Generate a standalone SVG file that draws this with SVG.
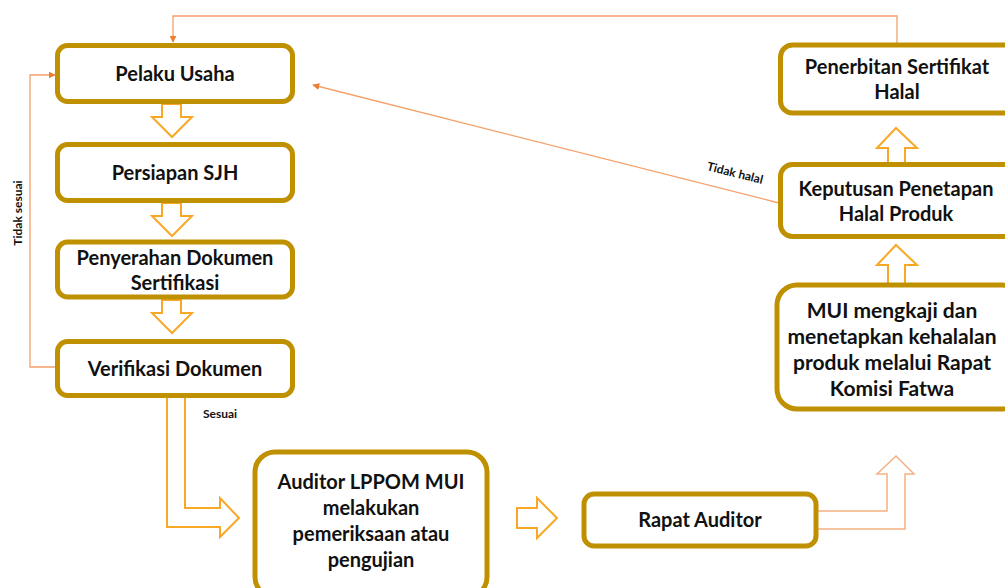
<svg xmlns="http://www.w3.org/2000/svg" width="1005" height="588" viewBox="0 0 1005 588">
<style>
.box{fill:#fff;stroke:#BF9000;stroke-width:5}
.t{font-family:Lato,"Open Sans",sans-serif;font-weight:bold;font-size:20px;fill:#111;text-anchor:middle}
.m{font-size:21px}
.s{font-family:Lato,"Open Sans",sans-serif;font-weight:bold;font-size:12px;fill:#111}
.ha{fill:#fff;stroke:#F9A825;stroke-width:2;stroke-linejoin:miter}
.hb{fill:#fff;stroke:#F4B183;stroke-width:1.5}
.c{fill:none;stroke:#F4A06A;stroke-width:1.3}
</style>
<defs>
<marker id="ah" viewBox="0 0 10 10" refX="9" refY="5" markerWidth="7" markerHeight="7" orient="auto" markerUnits="userSpaceOnUse">
<path d="M0,0 L10,5 L0,10 z" fill="#ED7D31"/>
</marker>
</defs>
<rect width="1005" height="588" fill="#fff"/>
<g id="connectors">
<polyline class="c" points="897,45 897,16 173,16 173,42" marker-end="url(#ah)"/>
<polyline class="c" points="57,367 30,367 30,75 55,75" marker-end="url(#ah)"/>
<line class="c" x1="779" y1="203" x2="313" y2="85" marker-end="url(#ah)"/>
<path class="ha" d="M162,104 L181,104 L181,117 L192,117 L172,137 L152,117 L162,117 Z"/>
<path class="ha" d="M162,203 L181,203 L181,216 L192,216 L172,236 L152,216 L162,216 Z"/>
<path class="ha" d="M162,300 L181,300 L181,313 L192,313 L172,333 L152,313 L162,313 Z"/>
<path class="ha" d="M167,397 L185,397 L185,508 L220,508 L220,498 L239,518 L220,537 L220,527 L167,527 Z"/>
<path class="ha" d="M517,508 L537,508 L537,498 L557,518 L537,538 L537,528 L517,528 Z"/>
<path class="hb" d="M818,511 L887,511 L887,474 L877,474 L896,456 L914,474 L905,474 L905,529 L818,529"/>
<path class="ha" d="M888,162 L888,148 L877,148 L896,128 L917,148 L905,148 L905,162"/>
<path class="ha" d="M888,283 L888,265 L877,265 L896,245 L917,265 L905,265 L905,283"/>
<text class="s" x="203" y="418">Sesuai</text>
<text class="s" transform="translate(22,213) rotate(-90)" text-anchor="middle">Tidak sesuai</text>
<text class="s" transform="translate(734,177) rotate(14)" text-anchor="middle">Tidak halal</text>
</g>
<g id="pelaku"><rect class="box" x="57.5" y="45.5" width="235" height="56" rx="10"/><text class="t" x="175" y="81">Pelaku Usaha</text></g>
<g id="persiapan"><rect class="box" x="57.5" y="144.5" width="235" height="56" rx="10"/><text class="t" x="175" y="180">Persiapan SJH</text></g>
<g id="penyerahan"><rect class="box" x="57.5" y="242" width="235" height="55" rx="10"/><text class="t" x="175" y="265">Penyerahan Dokumen</text><text class="t" x="175" y="290">Sertifikasi</text></g>
<g id="verifikasi"><rect class="box" x="57.5" y="341.5" width="235" height="54" rx="10"/><text class="t" x="175" y="376">Verifikasi Dokumen</text></g>
<g id="auditor"><rect class="box" x="255" y="452" width="232" height="145" rx="20"/><text class="t" x="371" y="489">Auditor LPPOM MUI</text><text class="t" x="371" y="515">melakukan</text><text class="t" x="371" y="541">pemeriksaan atau</text><text class="t" x="371" y="567">pengujian</text></g>
<g id="rapat"><rect class="box" x="584" y="494" width="232" height="52" rx="10"/><text class="t" x="700" y="527">Rapat Auditor</text></g>
<g id="mui"><rect class="box" x="777" y="285" width="245" height="124" rx="20"/><text class="t m" x="892" y="318">MUI mengkaji dan</text><text class="t m" x="892" y="344">menetapkan kehalalan</text><text class="t m" x="892" y="370">produk melalui Rapat</text><text class="t m" x="892" y="396">Komisi Fatwa</text></g>
<g id="keputusan"><rect class="box" x="780.5" y="164.5" width="240" height="72" rx="12"/><text class="t" x="896" y="196">Keputusan Penetapan</text><text class="t" x="896" y="221">Halal Produk</text></g>
<g id="penerbitan"><rect class="box" x="780.5" y="45" width="240" height="68" rx="12"/><text class="t" x="897" y="74">Penerbitan Sertifikat</text><text class="t" x="897" y="99">Halal</text></g>
</svg>
